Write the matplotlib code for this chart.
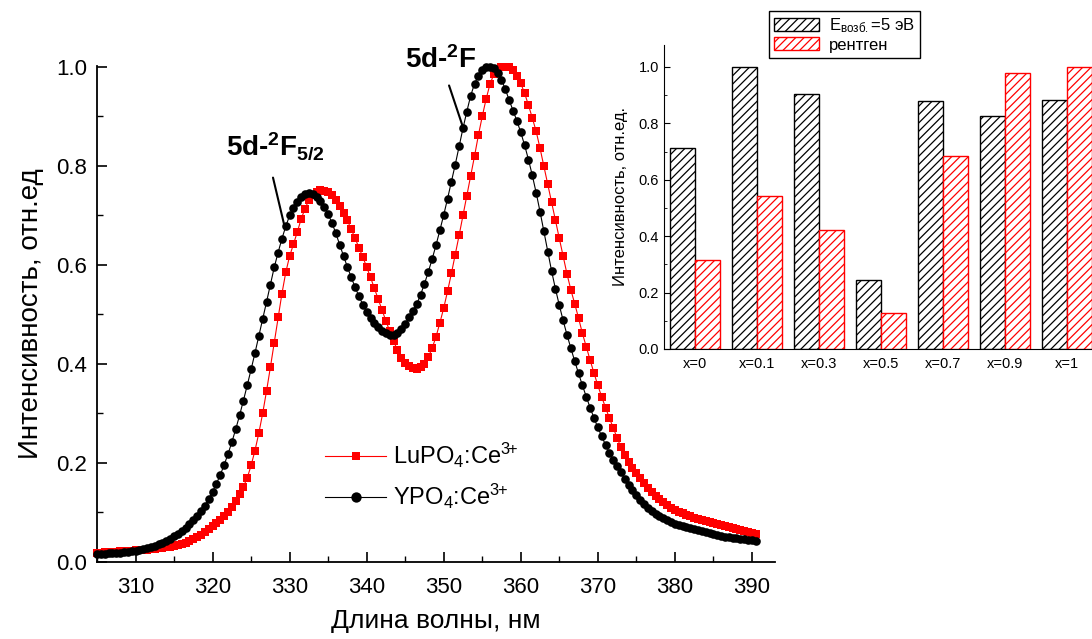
import numpy as np
import matplotlib.pyplot as plt
from matplotlib.ticker import MultipleLocator, FormatStrFormatter

plt.rcParams['font.family'] = ['Liberation Sans', 'DejaVu Sans']
plt.rcParams['mathtext.fontset'] = 'custom'
plt.rcParams['mathtext.rm'] = 'Liberation Sans'
plt.rcParams['mathtext.bf'] = 'Liberation Sans:bold'
plt.rcParams['mathtext.it'] = 'Liberation Sans:italic'
plt.rcParams['mathtext.default'] = 'regular'
plt.rcParams['hatch.linewidth'] = 0.9

# spectra, 0.5 nm step from 305 to 390.5 nm
wavelength = np.arange(305.0, 391.0, 0.5)

ypo4 = [
    0.016, 0.017, 0.017, 0.018, 0.018, 0.019, 0.019, 0.020, 0.021, 0.022,
    0.023, 0.024, 0.026, 0.028, 0.030, 0.033, 0.036, 0.039, 0.043, 0.047,
    0.052, 0.057, 0.063, 0.069, 0.076, 0.084, 0.093, 0.103, 0.114, 0.127,
    0.142, 0.158, 0.176, 0.196, 0.218, 0.242, 0.268, 0.296, 0.326, 0.357,
    0.389, 0.422, 0.456, 0.490, 0.525, 0.560, 0.595, 0.625, 0.653, 0.678,
    0.700, 0.716, 0.728, 0.737, 0.743, 0.745, 0.743, 0.738, 0.729, 0.718,
    0.703, 0.685, 0.664, 0.641, 0.618, 0.596, 0.575, 0.555, 0.537, 0.520,
    0.505, 0.492, 0.482, 0.474, 0.467, 0.462, 0.459, 0.459, 0.462, 0.470,
    0.481, 0.494, 0.508, 0.521, 0.540, 0.562, 0.586, 0.612, 0.640, 0.670,
    0.701, 0.734, 0.768, 0.803, 0.840, 0.876, 0.910, 0.942, 0.966, 0.982,
    0.993, 0.999, 1.000, 0.997, 0.988, 0.974, 0.955, 0.933, 0.912, 0.891,
    0.868, 0.842, 0.813, 0.781, 0.746, 0.708, 0.668, 0.627, 0.588, 0.552,
    0.519, 0.488, 0.459, 0.432, 0.406, 0.381, 0.357, 0.334, 0.312, 0.291,
    0.272, 0.254, 0.237, 0.221, 0.207, 0.194, 0.181, 0.168, 0.156, 0.145,
    0.135, 0.125, 0.117, 0.110, 0.103, 0.097, 0.092, 0.088, 0.084, 0.080,
    0.077, 0.074, 0.072, 0.070, 0.068, 0.066, 0.064, 0.062, 0.060, 0.058,
    0.056, 0.054, 0.052, 0.051, 0.050, 0.049, 0.048, 0.047, 0.046, 0.045,
    0.044, 0.043,
]

lupo4 = [
    0.019, 0.019, 0.020, 0.020, 0.021, 0.021, 0.022, 0.022, 0.023, 0.023,
    0.024, 0.024, 0.025, 0.025, 0.026, 0.027, 0.028, 0.029, 0.030, 0.031,
    0.032, 0.034, 0.036, 0.039, 0.042, 0.046, 0.050, 0.055, 0.060, 0.066,
    0.072, 0.078, 0.085, 0.093, 0.102, 0.112, 0.123, 0.137, 0.152, 0.170,
    0.195, 0.225, 0.260, 0.300, 0.345, 0.393, 0.443, 0.494, 0.542, 0.585,
    0.618, 0.642, 0.667, 0.693, 0.714, 0.731, 0.742, 0.748, 0.751, 0.750,
    0.747, 0.741, 0.731, 0.719, 0.705, 0.690, 0.672, 0.654, 0.635, 0.616,
    0.596, 0.575, 0.553, 0.531, 0.509, 0.487, 0.466, 0.446, 0.428, 0.413,
    0.402, 0.395, 0.391, 0.390, 0.393, 0.401, 0.414, 0.432, 0.455, 0.483,
    0.513, 0.547, 0.583, 0.621, 0.660, 0.700, 0.740, 0.780, 0.820, 0.862,
    0.900, 0.935, 0.965, 0.985, 0.996, 1.000, 1.000, 0.999, 0.993, 0.982,
    0.967, 0.947, 0.923, 0.897, 0.870, 0.836, 0.800, 0.763, 0.727, 0.690,
    0.654, 0.618, 0.582, 0.550, 0.522, 0.493, 0.462, 0.435, 0.408, 0.382,
    0.357, 0.334, 0.312, 0.291, 0.271, 0.251, 0.232, 0.217, 0.203, 0.190,
    0.180, 0.170, 0.160, 0.150, 0.142, 0.134, 0.127, 0.121, 0.115, 0.110,
    0.106, 0.102, 0.098, 0.095, 0.092, 0.089, 0.087, 0.084, 0.082, 0.080,
    0.078, 0.076, 0.074, 0.072, 0.070, 0.068, 0.066, 0.064, 0.062, 0.060,
    0.058, 0.056,
]

# inset: integrated intensity vs composition
compositions = ['x=0', 'x=0.1', 'x=0.3', 'x=0.5', 'x=0.7', 'x=0.9', 'x=1']
uv_excitation = [0.712, 1.0, 0.903, 0.245, 0.878, 0.826, 0.882]
xray = [0.317, 0.544, 0.421, 0.129, 0.683, 0.978, 1.0]

fig = plt.figure(figsize=(10.92, 6.39), dpi=100)

# ---- main spectra ----
ax = fig.add_axes([97 / 1092, 1 - 562 / 639, (775 - 97) / 1092, (562 - 66) / 639])
ax.plot(wavelength, lupo4, color='red', marker='s', ms=5.3, mew=0,
        lw=0.8, label=r'LuPO$_4$:Ce$^{3\!\!+}$', clip_on=False, zorder=3)
ax.plot(wavelength, ypo4, color='black', marker='o', ms=6.2, mew=0,
        lw=0.8, label=r'YPO$_4$:Ce$^{3\!\!+}$', clip_on=False, zorder=4)

ax.set_xlim(305, 393)
ax.set_ylim(0, 1.002)
ax.xaxis.set_major_locator(MultipleLocator(10))
ax.xaxis.set_minor_locator(MultipleLocator(5))
ax.yaxis.set_major_locator(MultipleLocator(0.2))
ax.yaxis.set_minor_locator(MultipleLocator(0.1))
ax.yaxis.set_major_formatter(FormatStrFormatter('%.1f'))
ax.set_xticks(np.arange(310, 391, 10))
for side in ('top', 'right'):
    ax.spines[side].set_visible(False)
for side in ('left', 'bottom'):
    ax.spines[side].set_linewidth(1.3)
ax.tick_params(which='major', direction='in', length=7, width=1.2, labelsize=16)
ax.tick_params(axis='x', which='major', pad=11)
ax.tick_params(axis='y', which='major', pad=7)
ax.tick_params(which='minor', direction='in', length=4, width=1.0)
ax.set_xlabel('Длина волны, нм', fontsize=19, labelpad=8)
ax.set_ylabel('Интенсивность, отн.ед', fontsize=20, labelpad=9)

ax.text(321.7, 0.822, r'5d-$^{\mathbf{2}}$F$_{\mathbf{5/2}}$', fontsize=20,
        fontweight='bold', ha='left', va='baseline')
ax.text(345.0, 0.998, r'5d-$^{\mathbf{2}}$F', fontsize=20,
        fontweight='bold', ha='left', va='baseline')
ax.annotate('', xy=(329.45, 0.671), xytext=(327.76, 0.782),
            arrowprops=dict(arrowstyle='-', color='black', lw=1.5))
ax.annotate('', xy=(352.53, 0.877), xytext=(350.58, 0.968),
            arrowprops=dict(arrowstyle='-', color='black', lw=1.5))

ax.legend(loc='upper left', bbox_to_anchor=(325 / 1092, 1 - 441 / 639),
          bbox_transform=fig.transFigure, frameon=False, fontsize=17,
          borderpad=0, borderaxespad=0, handlelength=2.6, handletextpad=0.3,
          labelspacing=0.5, markerscale=1.2)

# ---- inset bars ----
ins = fig.add_axes([664 / 1092, 1 - 349 / 639, 434 / 1092, (349 - 45) / 639])
ins.set_facecolor('none')
pos = np.arange(len(compositions))
w = 0.4
b1 = ins.bar(pos - w / 2, uv_excitation, w, facecolor='white', edgecolor='black',
             hatch='////', lw=1.0, label=r'E$_{возб.}$=5 эВ')
b2 = ins.bar(pos + w / 2, xray, w, facecolor='white', edgecolor='red',
             hatch='////', lw=1.0, label='рентген')
ins.set_xlim(-0.5, 6.5)
ins.set_ylim(0, 1.078)
ins.set_xticks(pos)
ins.set_xticklabels(compositions)
ins.yaxis.set_major_locator(MultipleLocator(0.2))
ins.yaxis.set_minor_locator(MultipleLocator(0.1))
ins.yaxis.set_major_formatter(FormatStrFormatter('%.1f'))
for side in ('top', 'right'):
    ins.spines[side].set_visible(False)
ins.tick_params(axis='y', which='major', direction='in', length=4, labelsize=10.5)
ins.tick_params(axis='y', which='minor', direction='in', length=2)
ins.tick_params(axis='x', length=0, labelsize=10.5, pad=6)
ins.set_ylabel('Интенсивность, отн.ед.', fontsize=12, labelpad=8)

fig.legend(handles=[b1, b2], loc='upper left',
           bbox_to_anchor=(769 / 1092, 1 - 11 / 639), fontsize=12,
           frameon=True, fancybox=False, edgecolor='black', framealpha=1,
           borderpad=0.3, handlelength=2.7, handleheight=0.85,
           handletextpad=0.6, labelspacing=0.15, borderaxespad=0)

fig.savefig('out.png', dpi=100)
